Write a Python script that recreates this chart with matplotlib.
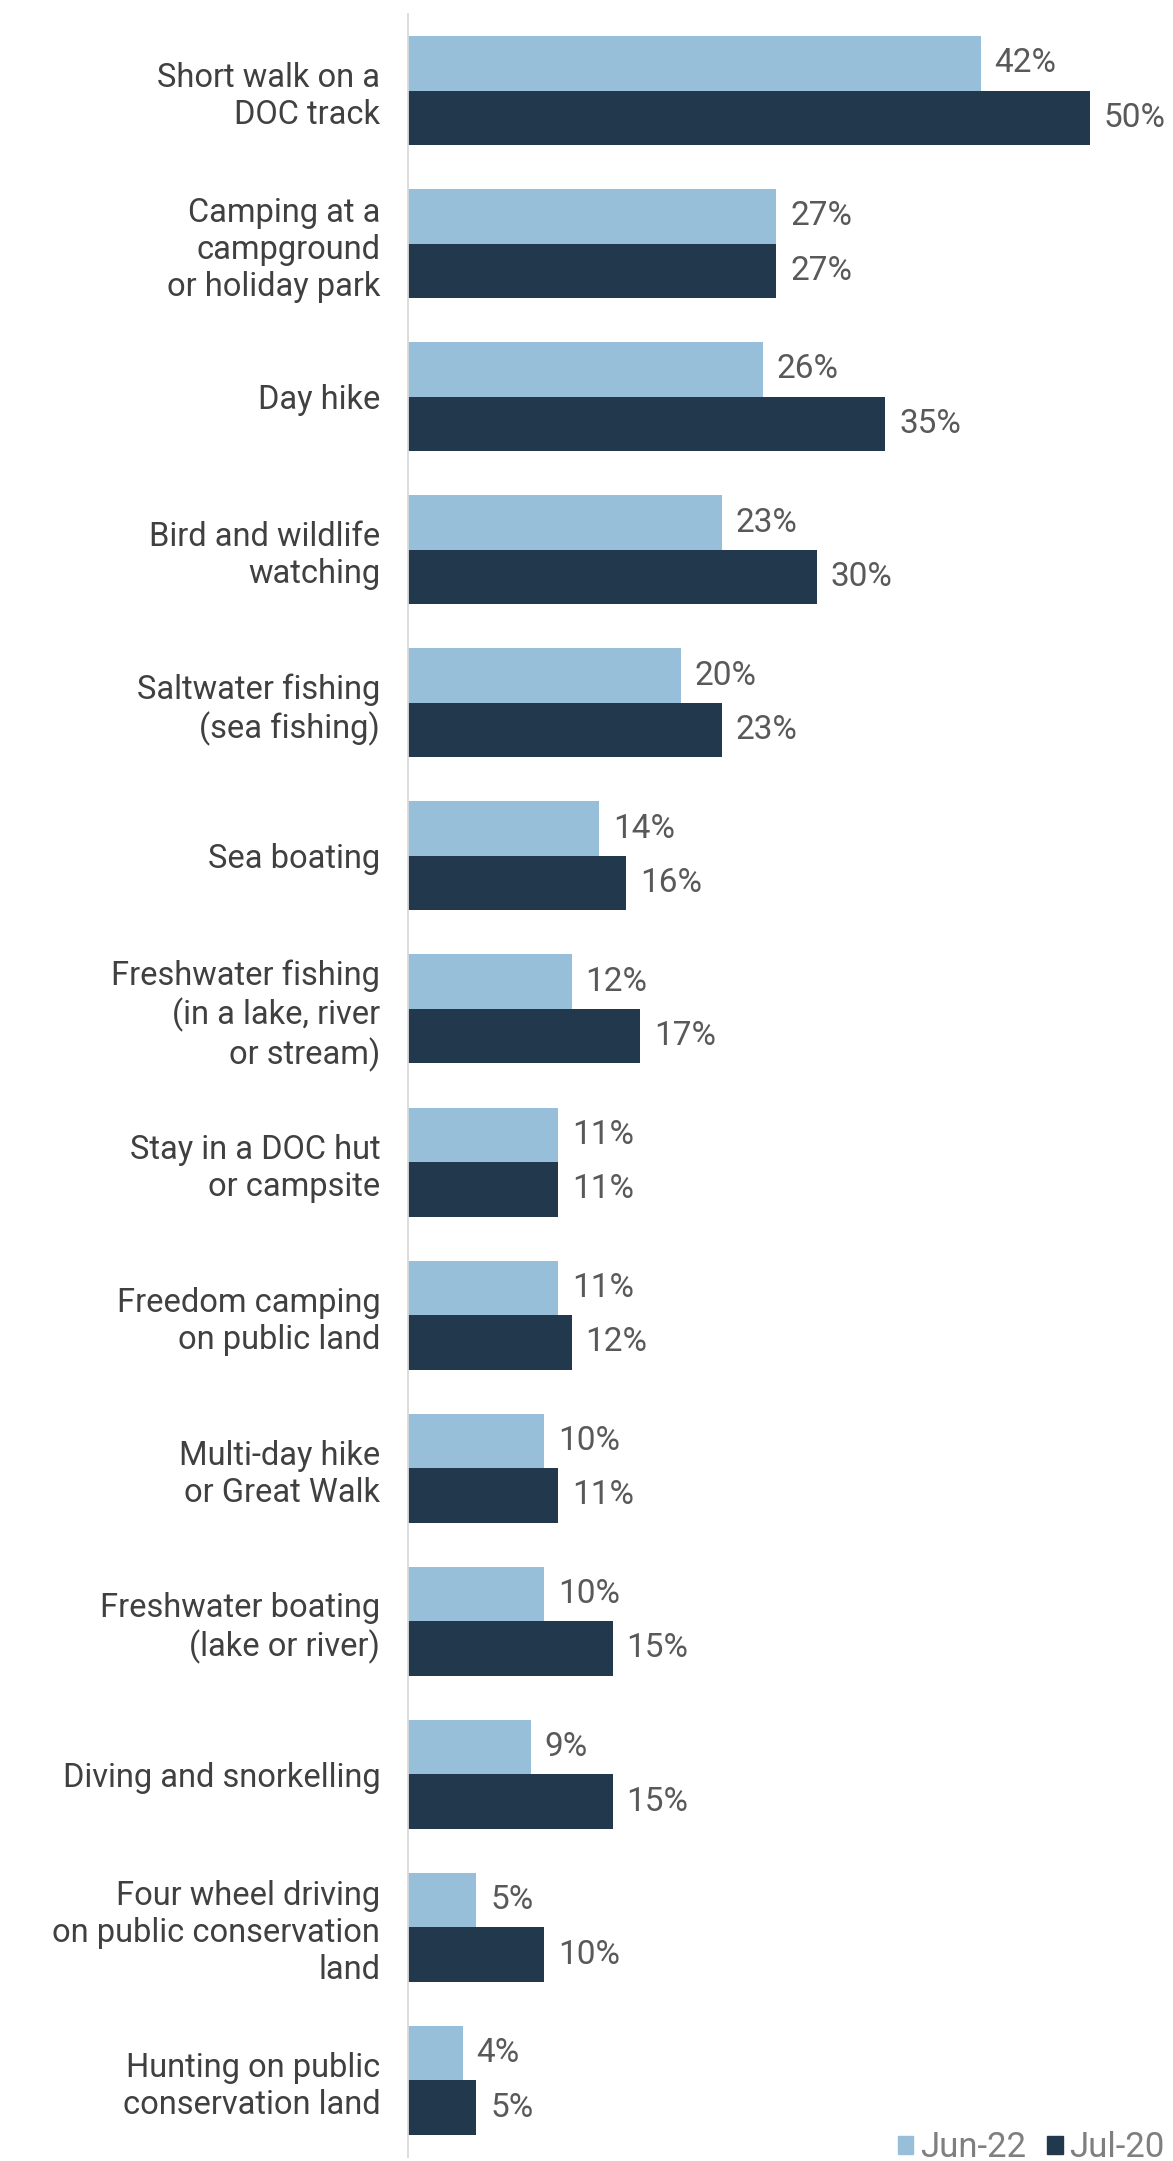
import matplotlib.pyplot as plt
from matplotlib.patches import Patch
import numpy as np

# activities, top to bottom
activities = [
    "Short walk on a\nDOC track",
    "Camping at a\ncampground\nor holiday park",
    "Day hike",
    "Bird and wildlife\nwatching",
    "Saltwater fishing\n(sea fishing)",
    "Sea boating",
    "Freshwater fishing\n(in a lake, river\nor stream)",
    "Stay in a DOC hut\nor campsite",
    "Freedom camping\non public land",
    "Multi-day hike\nor Great Walk",
    "Freshwater boating\n(lake or river)",
    "Diving and snorkelling",
    "Four wheel driving\non public conservation\nland",
    "Hunting on public\nconservation land",
]
jun22 = [42, 27, 26, 23, 20, 14, 12, 11, 11, 10, 10, 9, 5, 4]
jul20 = [50, 27, 35, 30, 23, 16, 17, 11, 12, 11, 15, 15, 10, 5]
series_names = ["Jun-22", "Jul-20"]

light = "#98bfda"
dark = "#22384d"
label_col = "#404040"
value_col = "#595959"

plt.rcParams['font.family'] = ['Roboto', 'DejaVu Sans']

fig = plt.figure(figsize=(11.73, 21.61), dpi=100)
ax = fig.add_axes([408 / 1173, 4 / 2161, 750 / 1173, 2143 / 2161])

y = np.arange(len(activities))
h = 0.356
b1 = ax.barh(y - h / 2, jun22, height=h, color=light)
b2 = ax.barh(y + h / 2, jul20, height=h, color=dark)

for bars in (b1, b2):
    ax.bar_label(bars, labels=[f"{v}%" for v in bars.datavalues],
                 padding=10, fontsize=24, color=value_col)

ax.set_ylim(len(activities) - 0.5, -0.5)
ax.set_xlim(0, 55)
ax.set_yticks(y)
ax.set_yticklabels(activities, fontsize=23.5, color=label_col, ha='right',
                   linespacing=1.2)
ax.tick_params(axis='y', length=0, pad=20)
ax.set_xticks([])

for side in ('top', 'right', 'bottom'):
    ax.spines[side].set_visible(False)
ax.spines['left'].set_color('#d9d9d9')
ax.spines['left'].set_linewidth(1.3)

handles = [Patch(color=light), Patch(color=dark)]
fig.legend(handles, series_names, loc='lower right', bbox_to_anchor=(1.005, -0.008),
           ncol=2, frameon=False, fontsize=25, labelcolor='#7f7f7f',
           handlelength=0.45, handleheight=0.45, handletextpad=0.2,
           columnspacing=0.6, borderaxespad=0.0)

fig.savefig("out.png", dpi=100)
